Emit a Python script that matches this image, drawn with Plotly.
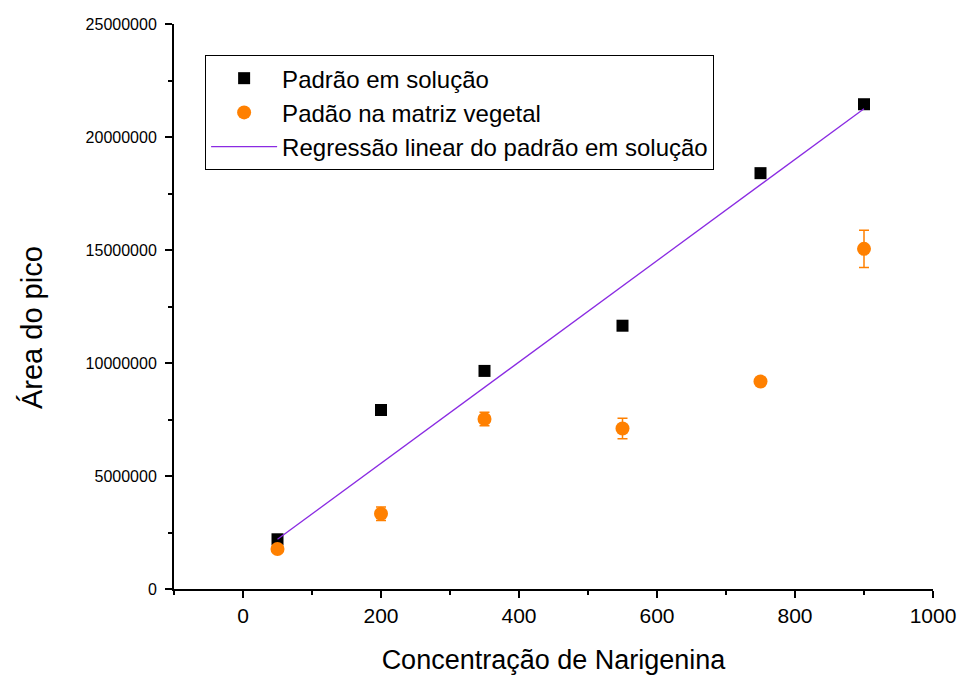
import plotly.graph_objects as go

# Concentração de naringenina (x) e área do pico (y)
conc = [50, 200, 350, 550, 750, 900]
area_solucao = [2.2e6, 7.92e6, 9.65e6, 11.65e6, 18.4e6, 21.45e6]
area_matriz = [1.77e6, 3.33e6, 7.52e6, 7.1e6, 9.18e6, 15.05e6]
erro_matriz = [0.1e6, 0.3e6, 0.3e6, 0.45e6, 0.12e6, 0.82e6]

# Reta de regressão (extremos)
reg_x = [50, 900]
reg_y = [2.2e6, 21.25e6]

FONT = "Liberation Sans, Arial, sans-serif"

fig = go.Figure()
fig.add_trace(go.Scatter(
    x=conc, y=area_solucao, mode="markers", name="Padrão em solução",
    marker=dict(symbol="square", size=12, color="black"),
))
fig.add_trace(go.Scatter(
    x=conc, y=area_matriz, mode="markers", name="Padão na matriz vegetal",
    marker=dict(symbol="circle", size=14, color="#FF8000"),
    error_y=dict(type="data", array=erro_matriz, visible=True,
                 color="#FF8000", thickness=1.5, width=5),
))
fig.add_trace(go.Scatter(
    x=reg_x, y=reg_y, mode="lines",
    name="Regressão linear do padrão em solução",
    line=dict(color="#8A2BE2", width=1.3),
))

axis_common = dict(
    showline=True, linecolor="black", linewidth=2, mirror=False,
    ticks="outside", ticklen=7, tickwidth=2, tickcolor="black",
    showgrid=False, zeroline=False, automargin=False,
)

fig.update_layout(
    width=962, height=678,
    margin=dict(l=174, r=29, t=24, b=89),
    plot_bgcolor="white", paper_bgcolor="white",
    font=dict(family=FONT, color="black"),
    xaxis=dict(
        range=[-100, 1000], tick0=0, dtick=200,
        tickfont=dict(family=FONT, size=21, color="black"),
        title=dict(text="Concentração de Narigenina",
                   font=dict(family=FONT, size=27), standoff=24),
        minor=dict(dtick=100, tick0=0, ticks="outside", ticklen=4,
                   tickwidth=2, tickcolor="black"),
        **axis_common,
    ),
    yaxis=dict(
        range=[0, 25e6], tick0=0, dtick=5e6, tickformat="d",
        tickfont=dict(family=FONT, size=16, color="black"),
        ticklabelstandoff=5,
        minor=dict(dtick=2.5e6, tick0=0, ticks="outside", ticklen=4,
                   tickwidth=2, tickcolor="black"),
        **axis_common,
    ),
    annotations=[dict(
        text="Área do pico", textangle=-90, showarrow=False,
        xref="paper", yref="paper", x=-0.187, y=0.462,
        xanchor="center", yanchor="middle",
        font=dict(family=FONT, size=29, color="black"),
    )],
    legend=dict(
        x=0.041, y=0.945, xanchor="left", yanchor="top",
        bordercolor="black", borderwidth=1, bgcolor="white",
        font=dict(family=FONT, size=24, color="black"),
        itemsizing="trace", itemwidth=66, tracegroupgap=0,
    ),
    showlegend=True,
)

fig.write_html("out.html")
